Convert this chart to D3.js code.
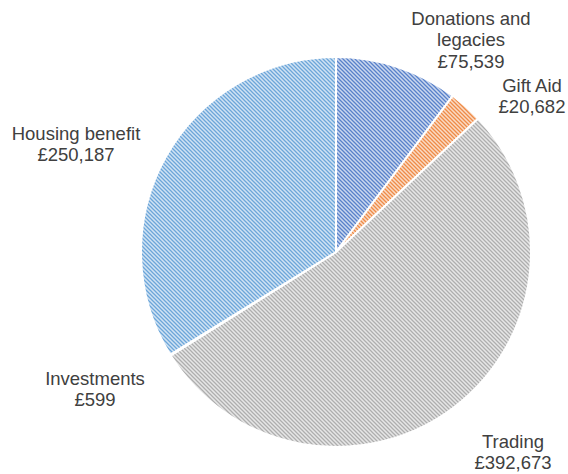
<!DOCTYPE html>
<html lang="en">
<head>
<meta charset="utf-8">
<title>Income sources</title>
<script src="https://d3js.org/d3.v7.min.js"></script>
<style>
  body { margin: 0; background: #fff; }
  text { font-family: "Liberation Sans", Arial, sans-serif; font-size: 18.5px; fill: #404040; }
</style>
</head>
<body>
<script>
// data
var categories = ["Donations and legacies", "Gift Aid", "Trading", "Investments", "Housing benefit"];
var values = [75539, 20682, 392673, 599, 250187];
var labelLines = [["Donations and", "legacies", "£75,539"], ["Gift Aid", "£20,682"], ["Trading", "£392,673"], ["Investments", "£599"], ["Housing benefit", "£250,187"]];

// colours per slice (stripe colour, background tint)
var colors = ["#4472C4", "#ED7D31", "#A5A5A5", "#FFC000", "#5B9BD5"];

// where Excel put the labels (centre x, centre y of the first line)
var labelPos = [[471, 18], [532, 85], [513, 441], [95, 378], [76, 133]];

var width = 568, height = 474,
    cx = 336, cy = 252, radius = 195;

var svg = d3.select("body").append("svg")
    .attr("width", width)
    .attr("height", height);

var defs = svg.append("defs");
colors.forEach(function(c, i) {
    var p = defs.append("pattern")
        .attr("id", "pat" + i)
        .attr("patternUnits", "userSpaceOnUse")
        .attr("width", 4)
        .attr("height", 4);
    p.append("rect")
        .attr("width", 4).attr("height", 4)
        .attr("fill", d3.interpolateRgb(c, "#ffffff")(0.72));
    p.append("path")
        .attr("d", "M0,0L4,4M-1,3L1,5M3,-1L5,1")
        .attr("stroke", c)
        .attr("stroke-width", 1.3)
        .attr("stroke-opacity", 0.85);
});

var pie = d3.pie().sort(null).value(function(d) { return d; });
var arc = d3.arc().innerRadius(0).outerRadius(radius);

var g = svg.append("g").attr("transform", "translate(" + cx + "," + cy + ")");

g.selectAll("path")
  .data(pie(values))
  .enter()
  .append("path")
  .attr("d", arc)
  .attr("fill", function(d, i) { return "url(#pat" + i + ")"; })
  .attr("stroke", "#ffffff")
  .attr("stroke-width", 2)
  .attr("stroke-linejoin", "round");

// labels
var lab = svg.selectAll("text.lab")
  .data(categories)
  .enter()
  .append("text")
  .attr("class", "lab")
  .attr("text-anchor", "middle")
  .attr("x", function(d, i) { return labelPos[i][0]; })
  .attr("y", function(d, i) { return labelPos[i][1] + 6.5; });

lab.each(function(d, i) {
    var t = d3.select(this);
    labelLines[i].forEach(function(line, j) {
        t.append("tspan")
          .attr("x", labelPos[i][0])
          .attr("dy", j === 0 ? 0 : 21.5)
          .text(line);
    });
});
</script>
</body>
</html>
